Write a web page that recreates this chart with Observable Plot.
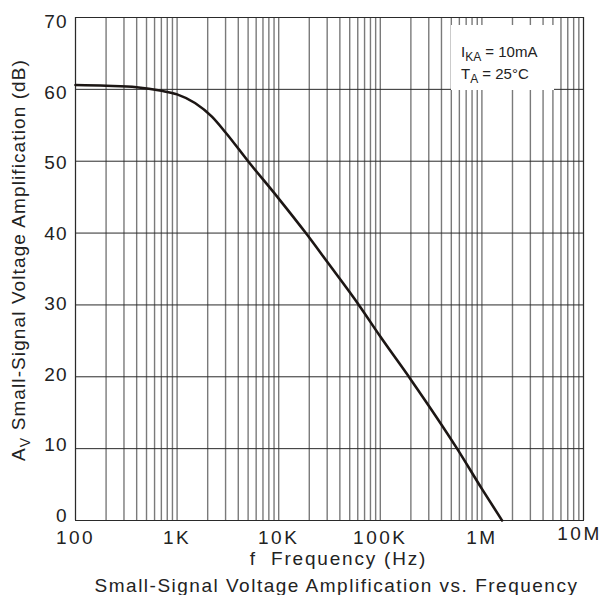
<!DOCTYPE html>
<html>
<head>
<meta charset="utf-8">
<script src="https://cdn.jsdelivr.net/npm/d3@7"></script>
<script src="https://cdn.jsdelivr.net/npm/@observablehq/plot@0.6"></script>
<style>
  body { margin: 0; background: #fff; font-family: "Liberation Sans", Arial, sans-serif; }
  #caption { width: 605px; text-align: center; font-size: 19px; letter-spacing: 1.5px; color: #222; margin-top: 3px; padding-left: 68px; box-sizing: border-box; white-space: nowrap; }
</style>
</head>
<body>
<div id="chart"></div>
<div id="caption">Small-Signal Voltage Amplification vs. Frequency</div>
<script>
// Curve (frequency in Hz, gain in dB)
const freqHz = [100, 200, 400, 700, 1000, 1500, 2200, 3000, 5000, 10000, 18500, 30000, 61500, 100000, 200000, 570000, 1000000, 1580000];
const gainDb = [60.6, 60.5, 60.3, 59.8, 59.3, 58.1, 56.2, 54.0, 50.0, 44.8, 40.0, 36.0, 30.0, 25.6, 19.6, 10.0, 4.4, 0];

const xTickValues = [100, 1000, 10000, 100000, 1000000, 10000000];
const xTickLabels = ["100", "1K", "10K", "100K", "1M", "10M"];
const yTickValues = [0, 10, 20, 30, 40, 50, 60, 70];
const decades = [100, 1000, 10000, 100000, 1000000];
const multipliers = [1, 2, 3, 4, 5, 6, 7, 8, 9];

const curve = freqHz.map((f, i) => ({f, db: gainDb[i]}));
const gridX = decades.flatMap(d => multipliers.map(m => d * m)).concat([10000000]);
const labelOf = new Map(xTickValues.map((v, i) => [v, xTickLabels[i]]));

const plot = Plot.plot({
  width: 605,
  height: 572,
  marginTop: 17,
  marginBottom: 52,
  marginLeft: 75,
  marginRight: 22,
  style: {fontFamily: "Liberation Sans, Arial, sans-serif", fontSize: "19px", color: "#222", background: "#fff"},
  x: {type: "log", domain: [100, 10000000]},
  y: {domain: [0, 70]},
  marks: [
    Plot.ruleX(gridX, {stroke: "#7a7a7a", strokeWidth: 1.4}),
    Plot.ruleY(yTickValues, {stroke: "#2a2a2a", strokeWidth: 1}),
    Plot.frame({stroke: "#2a2a2a", strokeWidth: 1}),
    Plot.line(curve, {x: "f", y: "db", curve: "monotone-x", stroke: "#1c1614", strokeWidth: 2.6}),
    Plot.axisX(xTickValues.slice(0, 5), {tickSize: 0, tickPadding: 10, tickFormat: d => labelOf.get(d), label: null, fontSize: 19}),
    Plot.axisX([10000000], {tickSize: 0, tickPadding: 6, dx: -4, tickFormat: d => labelOf.get(d), label: null, fontSize: 19}),
    ...yTickValues.map(v => Plot.axisY([v], {tickSize: 0, tickPadding: 8, dy: 4.8 - (70 - v) * 0.14, label: null, fontSize: 19})),
    Plot.text(["f  Frequency (Hz)"], {frameAnchor: "bottom", dy: 38, dx: 9, fontSize: 19, lineAnchor: "middle"})
  ]
});
document.getElementById("chart").appendChild(plot);

const svg = d3.select(plot);
svg.selectAll('g[aria-label="x-axis tick label"] text').style("letter-spacing", "2.5px");
svg.selectAll('g[aria-label="y-axis tick label"] text').style("letter-spacing", "1px");
svg.selectAll('g[aria-label="text"] text').style("letter-spacing", "1.8px").style("white-space", "pre");

// Y axis title with subscript
const yt = svg.append("text")
  .attr("transform", "translate(25,260) rotate(-90)")
  .attr("text-anchor", "middle")
  .attr("fill", "#222")
  .attr("font-size", 19)
  .style("letter-spacing", "1.1px");
yt.append("tspan").text("A");
yt.append("tspan").attr("font-size", 14).attr("dy", 5).text("V");
yt.append("tspan").attr("dy", -5).text(" Small-Signal Voltage Amplification (dB)");

// Condition annotation box
const g = svg.append("g").attr("text-anchor", "start");
g.append("rect").attr("x", 451).attr("y", 25).attr("width", 103).attr("height", 65).attr("fill", "#fff");
const t1 = g.append("text").attr("x", 461).attr("y", 57).attr("font-size", 15).attr("fill", "#222").attr("text-anchor", "start");
t1.append("tspan").text("I");
t1.append("tspan").attr("font-size", 12).attr("dy", 4).text("KA");
t1.append("tspan").attr("dy", -4).text(" = 10mA");
const t2 = g.append("text").attr("x", 461).attr("y", 79).attr("font-size", 15).attr("fill", "#222").attr("text-anchor", "start");
t2.append("tspan").text("T");
t2.append("tspan").attr("font-size", 12).attr("dy", 4).text("A");
t2.append("tspan").attr("dy", -4).text(" = 25°C");
</script>
</body>
</html>
